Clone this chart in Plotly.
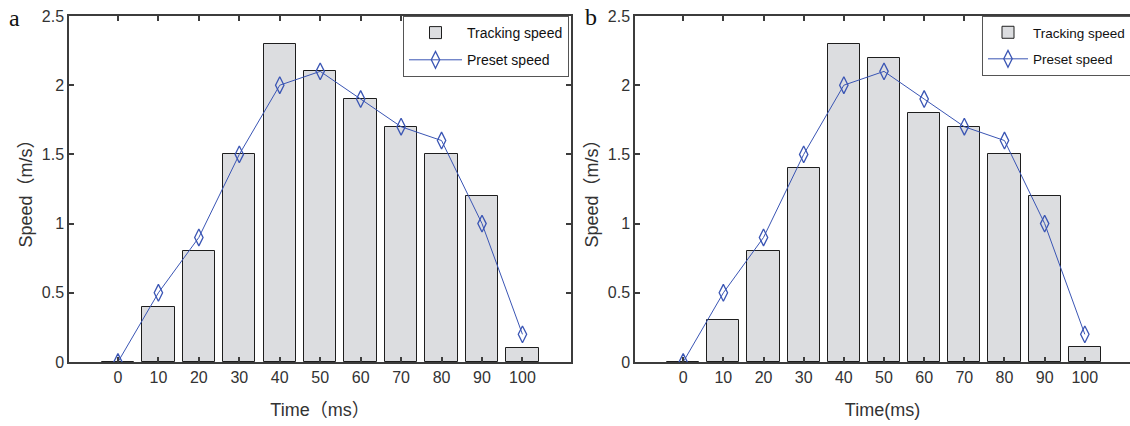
import plotly.graph_objects as go

time_ms = [0, 10, 20, 30, 40, 50, 60, 70, 80, 90, 100]
tracking_a = [0, 0.4, 0.8, 1.5, 2.3, 2.1, 1.9, 1.7, 1.5, 1.2, 0.1]
preset_a = [0, 0.5, 0.9, 1.5, 2.0, 2.1, 1.9, 1.7, 1.6, 1.0, 0.2]
tracking_b = [0, 0.3, 0.8, 1.4, 2.3, 2.2, 1.8, 1.7, 1.5, 1.2, 0.11]
preset_b = [0, 0.5, 0.9, 1.5, 2.0, 2.1, 1.9, 1.7, 1.6, 1.0, 0.2]
y_ticks = [0, 0.5, 1, 1.5, 2, 2.5]
y_ticklabels = ["0", "0.5", "1", "1.5", "2", "2.5"]

W, H = 1130, 426
NARROW = "Liberation Sans Narrow, Arial Narrow, Liberation Sans, Arial, sans-serif"
SANS = "Liberation Sans, Arial, Noto Sans CJK SC, sans-serif"
AX = "#3c3c3c"
TXT = "#333333"
BAR_FILL = "#dcdde0"
BAR_EDGE = "#1e1e1e"
LINE = "#3a55b4"

fig = go.Figure()


def add_panel(tracking, preset, xa, ya, legend):
    fig.add_trace(go.Bar(
        x=time_ms, y=tracking, width=8, name="Tracking speed",
        marker=dict(color=BAR_FILL, line=dict(color=BAR_EDGE, width=1)),
        xaxis=xa, yaxis=ya, legend=legend, legendgroup=legend + "bar",
    ))
    fig.add_trace(go.Scatter(
        x=time_ms, y=preset, mode="lines+markers", name="Preset speed",
        line=dict(color=LINE, width=1),
        marker=dict(symbol="diamond-tall-open", size=12, color=LINE,
                    line=dict(color=LINE, width=1.3)),
        xaxis=xa, yaxis=ya, legend=legend, legendgroup=legend + "line",
    ))


add_panel(tracking_a, preset_a, "x", "y", "legend")
add_panel(tracking_b, preset_b, "x2", "y2", "legend2")


def px(v):
    return v / W


def py(v):
    return (H - v) / H


axis_common = dict(
    showline=True, linecolor=AX, linewidth=1.5,
    ticks="inside", ticklen=5, tickwidth=1.5, tickcolor=AX,
    showgrid=False, zeroline=False, automargin=False,
    tickfont=dict(family=NARROW, size=16, color=TXT),
)

xa_common = dict(axis_common, tickmode="array", tickvals=time_ms,
                 ticktext=[str(t) for t in time_ms])
ya_common = dict(axis_common, tickmode="array", tickvals=y_ticks,
                 ticktext=y_ticklabels, range=[0, 2.5])

title_font = dict(family=SANS, size=18, color=TXT)
legend_common = dict(xanchor="left", yanchor="top", bgcolor="white",
                     bordercolor="#555555", borderwidth=1,
                     tracegroupgap=6)

fig.update_layout(
    width=W, height=H,
    margin=dict(l=0, r=0, t=0, b=0, autoexpand=False),
    paper_bgcolor="white", plot_bgcolor="white",
    bargap=0,
    xaxis=dict(xa_common, domain=[px(69), px(571)], range=[-12.1, 112],
               mirror="ticks", anchor="y",
               title=dict(text="Time（ms）", standoff=18, font=title_font)),
    yaxis=dict(ya_common, domain=[py(362), py(16)], mirror="ticks", anchor="x",
               title=dict(text="Speed（m/s）", standoff=4, font=title_font)),
    xaxis2=dict(xa_common, domain=[px(635), 1.0], range=[-12.0, 111.25],
                mirror="ticks", anchor="y2",
                title=dict(text="Time(ms)", standoff=18, font=title_font)),
    yaxis2=dict(ya_common, domain=[py(362), py(16)], mirror=False, anchor="x2",
                title=dict(text="Speed（m/s）", standoff=4, font=title_font)),
    legend=dict(legend_common, x=px(403), y=py(16), itemwidth=53,
                font=dict(family=NARROW, size=14, color="#111111")),
    legend2=dict(legend_common, x=px(982), y=py(16), itemwidth=40,
                 font=dict(family=NARROW, size=13.5, color="#111111")),
    annotations=[
        dict(text="a", x=px(14), y=py(18), xref="paper", yref="paper",
             xanchor="center", yanchor="middle", showarrow=False,
             font=dict(family="Liberation Serif, Times New Roman, serif",
                       size=24, color="#111111")),
        dict(text="b", x=px(591), y=py(17), xref="paper", yref="paper",
             xanchor="center", yanchor="middle", showarrow=False,
             font=dict(family="Liberation Serif, Times New Roman, serif",
                       size=24, color="#111111")),
    ],
)

fig.write_html("out.html")
